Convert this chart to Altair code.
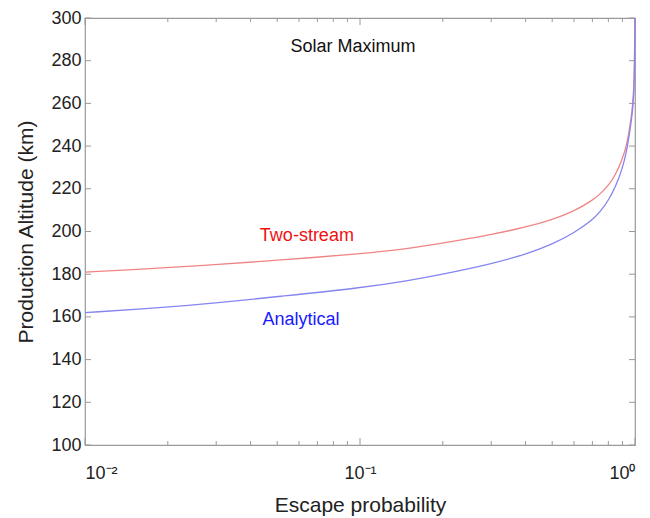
import altair as alt
import pandas as pd

# ---- data ----
escape_prob = [0.01, 0.02, 0.03, 0.05, 0.1, 0.15, 0.2, 0.3, 0.4, 0.5, 0.6, 0.7, 0.75,
               0.8, 0.85, 0.9, 0.93, 0.95, 0.97, 0.98, 0.99, 0.995, 1.0]
two_stream = [181, 183, 184.5, 186.5, 189.5, 192, 194.5, 198.5, 202, 205.5, 209.5, 214.5, 217.8,
              221.5, 226.5, 234, 240, 246, 254, 259, 267, 276, 300]
analytical = [162, 164.5, 166.5, 169.5, 173.5, 177, 180, 184.8, 189.3, 194, 199.3, 205.3, 209.5,
              214.5, 221, 229.5, 237, 244, 252, 257, 264, 273, 300]

series_names = ["Two-stream", "Analytical"]
line_colors = ["#f08484", "#8484f2"]

label_text = ["Solar Maximum", "Two-stream", "Analytical"]
label_x = [0.0943, 0.0641, 0.061]
label_y = [286.5, 197.9, 158.5]
label_color = ["#111111", "#ee1111", "#1a1aff"]

x_major = [0.01, 0.1, 1.0]
x_minor = [0.02, 0.03, 0.04, 0.05, 0.06, 0.07, 0.08, 0.09,
           0.2, 0.3, 0.4, 0.5, 0.6, 0.7, 0.8, 0.9]
y_ticks = [100, 120, 140, 160, 180, 200, 220, 240, 260, 280, 300]

W, H = 550, 427
FONT = "Liberation Sans"
FRAME = "#9a9a9a"

rows = []
for name, vals in zip(series_names, [two_stream, analytical]):
    for x, y in zip(escape_prob, vals):
        rows.append({"p": x, "alt": y, "series": name})
df = pd.DataFrame(rows)

xscale = alt.Scale(type="log", domain=[0.01, 1], nice=False)
yscale = alt.Scale(domain=[100, 300], nice=False, zero=False)

lines = alt.Chart(df).mark_line(strokeWidth=1.3, interpolate="basis").encode(
    x=alt.X("p:Q", scale=xscale,
            axis=alt.Axis(values=x_major, title="Escape probability",
                          labelExpr="datum.value < 0.05 ? '10⁻²' : datum.value < 0.5 ? '10⁻¹' : '10⁰'",
                          ticks=False, tickSize=0, domain=False, grid=False,
                          labelFontSize=18, labelPadding=19, labelFont=FONT, labelColor="#222",
                          titleFontSize=21, titleFont=FONT, titleFontWeight="normal",
                          titleColor="#222", titlePadding=12)),
    y=alt.Y("alt:Q", scale=yscale,
            axis=alt.Axis(values=y_ticks, title="Production Altitude (km)",
                          ticks=False, tickSize=0, domain=False, grid=False,
                          labelFontSize=18, labelPadding=4, labelFont=FONT, labelColor="#222",
                          titleFontSize=21, titleFont=FONT, titleFontWeight="normal",
                          titleColor="#222", titleX=-59, titleY=H / 2,
                          titleAngle=-90, titleAlign="center", titleBaseline="middle")),
    color=alt.Color("series:N", scale=alt.Scale(domain=series_names, range=line_colors), legend=None),
    order="p:Q",
)

labels_df = pd.DataFrame({"t": label_text, "x": label_x, "y": label_y, "c": label_color})
labels = alt.Chart(labels_df).mark_text(font=FONT, fontSize=18, align="center", baseline="middle").encode(
    x=alt.X("x:Q", scale=xscale),
    y=alt.Y("y:Q", scale=yscale),
    text="t:N",
    color=alt.Color("c:N", scale=None),
)

xmaj = pd.DataFrame({"v": x_major})
xmin = pd.DataFrame({"v": x_minor})
yt = pd.DataFrame({"v": y_ticks})

def xticks(data, length):
    bottom = alt.Chart(data).mark_rule(color=FRAME, strokeWidth=1).encode(
        x=alt.X("v:Q", scale=xscale), y=alt.value(H), y2=alt.value(H - length))
    top = alt.Chart(data).mark_rule(color=FRAME, strokeWidth=1).encode(
        x=alt.X("v:Q", scale=xscale), y=alt.value(0), y2=alt.value(length))
    return bottom + top

def yticks(data, length):
    left = alt.Chart(data).mark_rule(color=FRAME, strokeWidth=1).encode(
        y=alt.Y("v:Q", scale=yscale), x=alt.value(0), x2=alt.value(length))
    right = alt.Chart(data).mark_rule(color=FRAME, strokeWidth=1).encode(
        y=alt.Y("v:Q", scale=yscale), x=alt.value(W), x2=alt.value(W - length))
    return left + right

chart = alt.layer(
    xticks(xmaj, 7), xticks(xmin, 4), yticks(yt, 6), lines, labels
).properties(
    width=W, height=H,
    autosize=alt.AutoSizeParams(type="none"),
    padding={"left": 77, "top": 10, "right": 7, "bottom": 73},
    background="white",
).configure_view(stroke=FRAME, strokeWidth=1.2)

chart.save("out.html", embed_options={"renderer": "svg", "actions": False})
